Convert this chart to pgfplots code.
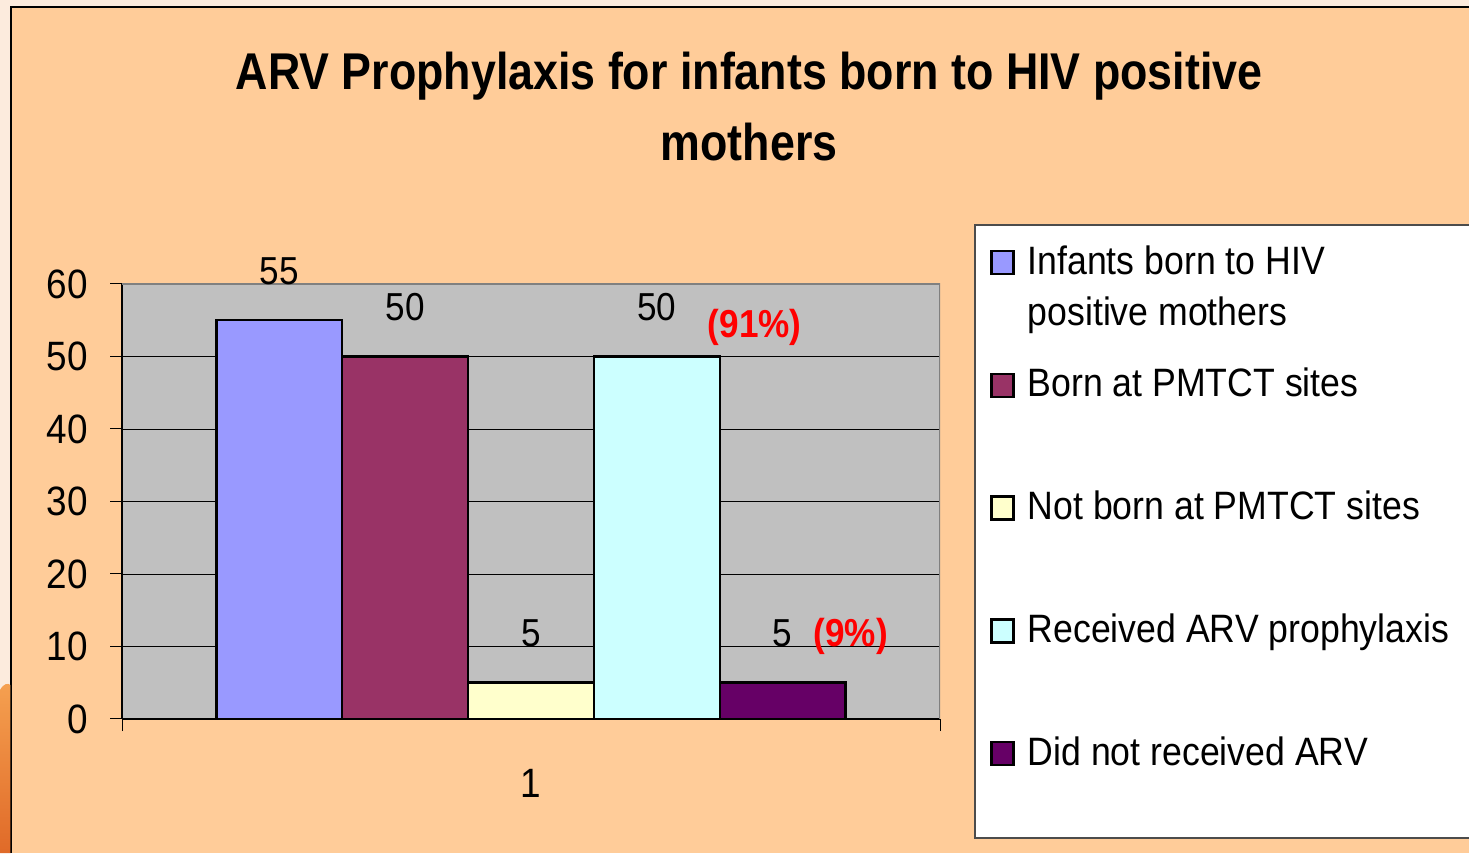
\documentclass[border=0pt]{standalone}
\usepackage{pgfplots}
\pgfplotsset{compat=1.18}
\usepackage{fontspec}
\setmainfont{Liberation Sans}[FakeStretch=0.9]
\newfontfamily\titlefont{Liberation Sans}[FakeStretch=0.866]
\definecolor{outerbg}{HTML}{FCEBDD}
\definecolor{chartbg}{HTML}{FFCC99}
\definecolor{plotgray}{HTML}{C0C0C0}
\definecolor{bordergray}{HTML}{808080}
\definecolor{cA}{HTML}{9999FF}
\definecolor{cB}{HTML}{993366}
\definecolor{cC}{HTML}{FFFFCC}
\definecolor{cD}{HTML}{CCFFFF}
\definecolor{cE}{HTML}{660066}
\definecolor{orangeA}{HTML}{F5A050}
\definecolor{orangeB}{HTML}{E06A28}
\newcommand\lentry[1]{\fontsize{39.6bp}{51bp}\selectfont\rule{0pt}{49bp}\smash{\makebox[440bp][l]{#1}}}
\pgfplotsset{sqlegend/.style={legend image code/.code={\draw[##1,line width=2.5bp] (0bp,0bp) rectangle (22bp,23bp);}}}
\begin{document}
\begin{tikzpicture}[x=1bp,y=1bp]
\useasboundingbox (0,0) rectangle (1469,853);
\fill[outerbg] (0,0) rectangle (1469,853);
\fill[chartbg] (11,0) rectangle (1469,846);
\draw[black, line width=1.2bp] (11,0) -- (11,846) -- (1469,846);
\shade[top color=orangeA, bottom color=orangeB] (0,0) -- (0,163) .. controls (4,170) and (8,170) .. (10.4,168) -- (10.4,0) -- cycle;
\node[font=\titlefont\bfseries\fontsize{51.7bp}{60bp}\selectfont, anchor=base] at (749,763) {ARV Prophylaxis for infants born to HIV positive};
\node[font=\titlefont\bfseries\fontsize{51.7bp}{60bp}\selectfont, anchor=base] at (749,692) {mothers};
% legend frame
\filldraw[fill=white, draw=black!70, line width=1.2bp] (975,15) rectangle (1490,628);
\begin{axis}[
  at={(122bp,134bp)}, anchor=south west,
  width=818bp, height=435bp, scale only axis,
  xmin=0.35, xmax=1.65, ymin=0, ymax=60,
  ytick={0,10,...,60},
  xtick={0.35,1.65}, xticklabels={},
  extra x ticks={1}, extra x tick labels={1},
  extra x tick style={major tick length=0pt, grid=none},
  axis x line*=bottom, axis y line*=left,
  axis line style={black, line width=1.2bp},
  axis background/.style={fill=plotgray},
  ymajorgrids=true,
  grid style={black, line width=0.9bp},
  tick style={black, line width=1bp},
  major tick length=12bp, tick align=outside,
  /pgf/number format/assume math mode=true,
  tick label style={font=\fontsize{41bp}{41bp}\selectfont},
  yticklabel style={anchor=east, inner sep=0pt, xshift=-22bp},
  xticklabel style={anchor=base, yshift=-78bp},
  ybar=0pt, bar width=0.2,
  every axis plot/.append style={draw=black, line width=2.5bp},
  nodes near coords,
  every node near coord/.append style={anchor=base, yshift=36bp, inner sep=0pt, font=\fontsize{39bp}{39bp}\selectfont, text=black},
  legend style={at={(1.0428,1.1356)}, anchor=north west, draw=none, fill=none,
    inner xsep=15bp, inner ysep=0bp, cells={anchor=base west}, nodes={inner sep=0pt, anchor=base west},
    column sep=13bp, row sep=72.25bp},
]
\addplot[fill=cA, sqlegend] coordinates {(1,55)};
\addlegendentry{\lentry{\rlap{\raisebox{-51bp}{positive mothers}}Infants born to HIV}}
\addplot[fill=cB, sqlegend] coordinates {(1,50)};
\addlegendentry{\lentry{Born at PMTCT sites}}
\addplot[fill=cC, sqlegend] coordinates {(1,5)};
\addlegendentry{\lentry{Not born at PMTCT sites}}
\addplot[fill=cD, sqlegend] coordinates {(1,50)};
\addlegendentry{\lentry{Received ARV prophylaxis}}
\addplot[fill=cE, sqlegend] coordinates {(1,5)};
\addlegendentry{\lentry{Did not received ARV}}
\draw[bordergray, line width=3bp] (rel axis cs:0,1) -- (rel axis cs:1,1) -- (rel axis cs:1,0);
\node[text=red, font=\bfseries\fontsize{39bp}{39bp}\selectfont] at (axis cs:1.3555,54.07) {(91\%)};
\node[text=red, font=\bfseries\fontsize{39bp}{39bp}\selectfont] at (axis cs:1.508,11.45) {(9\%)};
\end{axis}
\end{tikzpicture}
\end{document}
